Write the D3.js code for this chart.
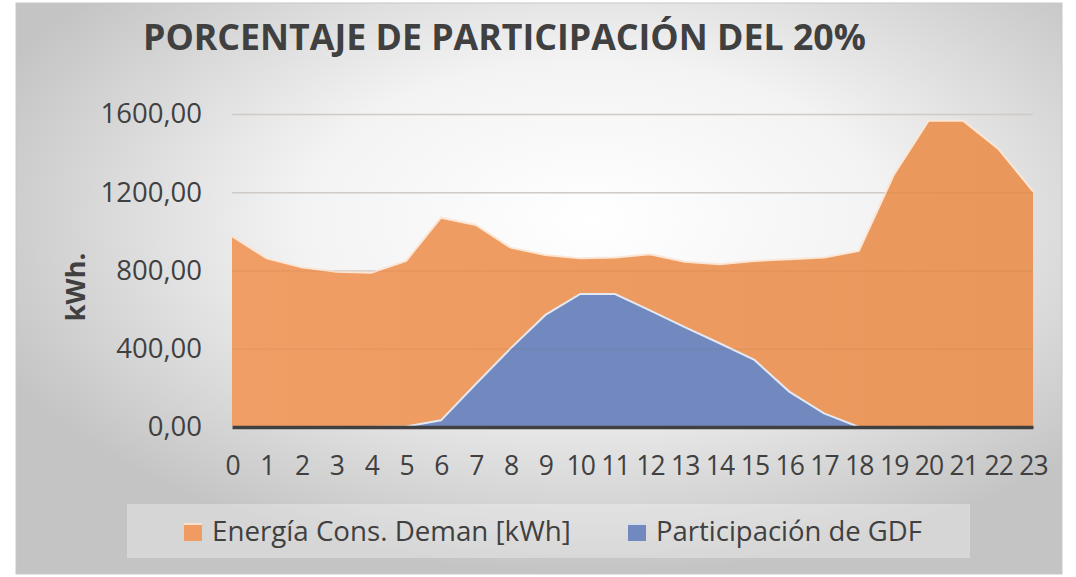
<!DOCTYPE html>
<html>
<head>
<meta charset="utf-8">
<script src="https://cdn.jsdelivr.net/npm/d3@7"></script>
<style>
  body { margin: 0; background: #fff; }
  text { font-family: "Open Sans", sans-serif; fill: #404040; }
</style>
</head>
<body>
<div id="chart"></div>
<script>
const hours = d3.range(0, 24).map(String),
demanda = [975, 862, 816, 794, 789, 849, 1070, 1033, 917, 879, 862, 866, 883, 845, 832, 849, 857, 866, 900, 1288, 1566, 1565, 1423, 1205],
participacion = [0, 0, 0, 0, 0, 2, 34, 220, 402, 573, 680, 680, 596, 511, 428, 343, 181, 70, 0, 0, 0, 0, 0, 0],
yTicks = [0, 400, 800, 1200, 1600],
seriesNames = ['Energía Cons. Deman [kWh]', 'Participación de GDF'],
titleText = 'PORCENTAJE DE PARTICIPACIÓN DEL 20%',
width = 1076,
height = 577,
plotLeft = 232,
plotRight = 1033,
plotTop = 114,
plotBottom = 427;

const x = d3.scalePoint().domain(hours).range([plotLeft, plotRight]),
y = d3.scaleLinear().domain([0, 1600]).range([plotBottom, plotTop]),
fmt = d => d3.format('.2f')(d).replace('.', ',');

const svg = d3.select('#chart')
   .append('svg')
   .attr('width', width)
   .attr('height', height);

const defs = svg.append('defs');

const bg = defs.append('radialGradient')
   .attr('id', 'bg')
   .attr('cx', '0.55').attr('cy', '0.38').attr('r', '0.62');
bg.append('stop').attr('offset', '0').attr('stop-color', '#ffffff');
bg.append('stop').attr('offset', '0.45').attr('stop-color', '#f3f3f3');
bg.append('stop').attr('offset', '1').attr('stop-color', '#c4c4c4');

const og = defs.append('linearGradient').attr('id', 'orange');
og.append('stop').attr('offset', '0').attr('stop-color', '#f19e66');
og.append('stop').attr('offset', '1').attr('stop-color', '#e9975b');

// frame + background
svg.append('rect')
   .attr('x', 16).attr('y', 3)
   .attr('width', 1046).attr('height', 571)
   .attr('fill', 'url(#bg)')
   .attr('stroke', '#c8c8c8');

// gridlines (behind)
svg.append('g')
   .attr('transform', `translate(${plotLeft},0)`)
   .call(d3.axisLeft(y).tickValues(yTicks.slice(1)).tickSize(-(plotRight - plotLeft)).tickFormat(''))
   .call(g => g.select('.domain').remove())
   .call(g => g.selectAll('line').attr('stroke', '#d6d6d6').attr('stroke-width', 1.3));

const area = data => d3.area()
   .x((d, i) => x(hours[i]))
   .y0(y(0))
   .y1(d => y(d))(data);

const topLine = data => d3.line()
   .x((d, i) => x(hours[i]))
   .y(d => y(d))(data);

svg.append('path')
   .attr('d', area(demanda))
   .attr('fill', 'url(#orange)');

svg.append('path')
   .attr('d', topLine(demanda))
   .attr('fill', 'none')
   .attr('stroke', '#fbe6d6')
   .attr('stroke-width', 2);

svg.append('path')
   .attr('d', area(participacion))
   .attr('fill', '#7189bf');

svg.append('path')
   .attr('d', topLine(participacion))
   .attr('fill', 'none')
   .attr('stroke', '#e3e8f3')
   .attr('stroke-width', 2);

// gridlines showing through the areas
svg.append('g')
   .attr('transform', `translate(${plotLeft},0)`)
   .call(d3.axisLeft(y).tickValues(yTicks.slice(1)).tickSize(-(plotRight - plotLeft)).tickFormat(''))
   .call(g => g.select('.domain').remove())
   .call(g => g.selectAll('line').attr('stroke', '#8a4a1a').attr('stroke-opacity', 0.08).attr('stroke-width', 1.3));

// y axis labels
const yAxis = svg.append('g')
   .attr('transform', `translate(${plotLeft},0)`)
   .call(d3.axisLeft(y).tickValues(yTicks).tickSize(0).tickPadding(30).tickFormat(fmt));
yAxis.select('.domain').remove();
yAxis.selectAll('text')
   .attr('font-family', '"Open Sans", sans-serif')
   .attr('fill', '#404040')
   .attr('font-size', 27.5);

// x axis
const xAxis = svg.append('g')
   .attr('transform', `translate(0,${plotBottom})`)
   .call(d3.axisBottom(x).tickSize(0).tickPadding(29));
xAxis.select('.domain')
   .attr('stroke', '#404040')
   .attr('stroke-width', 3.5);
xAxis.selectAll('text')
   .attr('font-family', '"Open Sans", sans-serif')
   .attr('fill', '#404040')
   .attr('font-size', 26.5)
   .attr('letter-spacing', -0.9);

// y title
svg.append('text')
   .attr('transform', 'translate(85,287) rotate(-90)')
   .attr('text-anchor', 'middle')
   .attr('font-weight', 'bold')
   .attr('font-size', 27)
   .text('kWh.');

function fitWidth(sel, w) {
   const len = sel.node().getComputedTextLength();
   const fs = parseFloat(sel.attr('font-size'));
   sel.attr('font-size', fs * w / len);
}

// title
svg.append('text')
   .attr('x', 143)
   .attr('y', 50)
   .attr('font-weight', 'bold')
   .attr('font-size', 40)
   .text(titleText)
   .call(fitWidth, 723);

// legend
svg.append('rect')
   .attr('x', 127).attr('y', 504)
   .attr('width', 843).attr('height', 54)
   .attr('fill', '#ffffff')
   .attr('fill-opacity', 0.3);

const legendItems = [
   { name: seriesNames[0], color: '#f09b62', sx: 184, tx: 212, tw: 359 },
   { name: seriesNames[1], color: '#7189bf', sx: 628, tx: 656, tw: 266 }
];

const lg = svg.selectAll('.legend-item')
   .data(legendItems)
   .join('g')
   .attr('class', 'legend-item');

lg.append('rect')
   .attr('x', d => d.sx)
   .attr('y', 523)
   .attr('width', 18)
   .attr('height', 18)
   .attr('fill', d => d.color);

lg.append('rect')
   .attr('x', d => d.sx)
   .attr('y', 523)
   .attr('width', 18)
   .attr('height', 2)
   .attr('fill', '#ffffff')
   .attr('fill-opacity', 0.7);

lg.append('text')
   .attr('x', d => d.tx)
   .attr('y', 541)
   .attr('font-size', 27)
   .text(d => d.name)
   .each(function (d) { fitWidth(d3.select(this), d.tw); });
</script>
</body>
</html>
